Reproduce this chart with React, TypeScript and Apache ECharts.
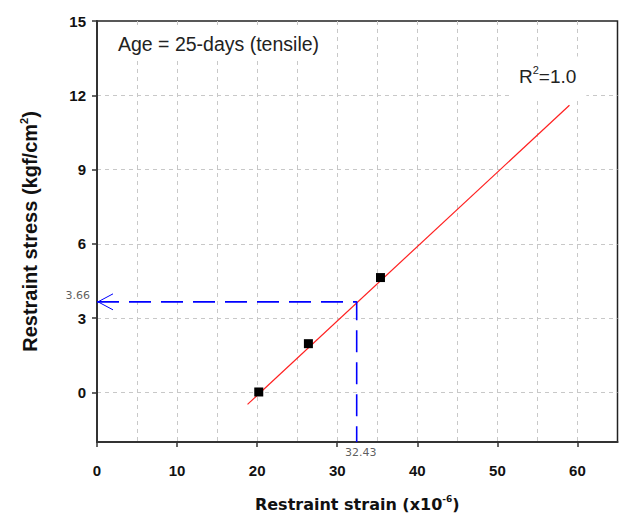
import React, { useEffect, useRef } from "react";
import * as echarts from "echarts";

// Measured restraint strain / stress at 25 days (tensile)
const strainValues = [20.2, 26.4, 35.4];
const stressValues = [0.02, 1.97, 4.64];

// End points of the fitted regression line
const fitStrain = [18.8, 59.0];
const fitStress = [-0.48, 11.6];

// Read-off point on the regression line
const readStrain = 32.43;
const readStress = 3.66;

// Axis ranges and tick labels
const xMin = 0;
const xMax = 65;
const xTickValues = [0, 10, 20, 30, 40, 50, 60];
const yMin = -2;
const yMax = 15;
const yTickValues = [0, 3, 6, 9, 12, 15];

const ageLabel = "Age = 25-days (tensile)";
const fitLabel = "R{sup|2}=1.0";

const FONT = "'Liberation Sans', Arial, Helvetica, sans-serif";
const WIDE_FONT = "'DejaVu Sans', Verdana, sans-serif";

export default function App() {
  const ref = useRef<HTMLDivElement>(null);

  useEffect(() => {
    if (!ref.current) return;
    const chart = echarts.init(ref.current, null, { renderer: "svg" });

    const gridDash = { color: "#c8c8c8", width: 1, type: [4, 4] as number[] };
    const guideColor = "#0000ff";

    const option: echarts.EChartsOption = {
      animation: false,
      backgroundColor: "#ffffff",
      grid: {
        left: 97,
        right: 1.5,
        top: 21,
        bottom: 79,
        show: true,
        borderColor: "#222",
        borderWidth: 1.5,
        backgroundColor: "transparent",
      },
      xAxis: [
        {
          type: "value",
          min: xMin,
          max: xMax,
          position: "bottom",
          name: "Restraint strain (x10{sup|-6})",
          nameLocation: "middle",
          nameGap: 52,
          nameTextStyle: {
            fontFamily: WIDE_FONT,
            fontWeight: "bold",
            fontSize: 16,
            color: "#111",
            rich: {
              sup: { fontSize: 9, fontWeight: "bold", fontFamily: WIDE_FONT, padding: [0, 0, 11, 0], color: "#111" },
            },
          },
          axisLine: { show: true, onZero: false, lineStyle: { color: "#333", width: 2 } },
          axisTick: { show: true, inside: false, length: 5, customValues: xTickValues, lineStyle: { color: "#333", width: 1.5 } },
          axisLabel: {
            customValues: xTickValues,
            margin: 21,
            fontFamily: FONT,
            fontWeight: "bold",
            fontSize: 15,
            color: "#111",
          },
          splitLine: { show: false },
        },
        {
          // grid lines every 5 units
          type: "value",
          min: xMin,
          max: xMax,
          interval: 5,
          position: "bottom",
          axisLine: { show: false },
          axisTick: { show: false },
          axisLabel: { show: false },
          splitLine: { show: true, showMinLine: false, showMaxLine: false, lineStyle: gridDash } as any,
        },
      ],
      yAxis: {
        type: "value",
        min: yMin,
        max: yMax,
        name: "Restraint stress (kgf/cm{sup|2})",
        nameLocation: "middle",
        nameGap: 55,
        nameTextStyle: {
          fontFamily: FONT,
          fontWeight: "bold",
          fontSize: 20,
          color: "#111",
          rich: {
            sup: { fontSize: 11, fontWeight: "bold", fontFamily: FONT, padding: [0, 0, 13, 0], color: "#111" },
          },
        },
        axisLine: { show: true, onZero: false, lineStyle: { color: "#333", width: 2 } },
        axisTick: { show: true, inside: false, length: 5, customValues: yTickValues, lineStyle: { color: "#333", width: 1.5 } },
        axisLabel: {
          customValues: yTickValues,
          margin: 11,
          fontFamily: FONT,
          fontWeight: "bold",
          fontSize: 15,
          color: "#111",
        },
        splitLine: { show: true, showMaxLine: false, lineStyle: gridDash } as any,
      },
      graphic: [
        {
          type: "text",
          x: 112,
          y: 44,
          z: 10,
          style: {
            text: ageLabel,
            fontFamily: FONT,
            fontSize: 19.5,
            fill: "#222",
            textVerticalAlign: "middle",
            backgroundColor: "#ffffff",
            padding: [6, 6, 6, 6],
          },
        },
        {
          type: "text",
          x: 509,
          y: 77,
          z: 10,
          style: {
            text: fitLabel,
            fontFamily: FONT,
            fontSize: 19,
            fill: "#222",
            textVerticalAlign: "middle",
            backgroundColor: "#ffffff",
            padding: [8, 10, 10, 10],
            rich: {
              sup: { fontSize: 11, fontFamily: FONT, fill: "#222", padding: [0, 0, 12, 0] },
            },
          } as any,
        },
      ],
      series: [
        {
          name: "fit",
          type: "line",
          data: fitStrain.map((x, i) => [x, fitStress[i]]),
          showSymbol: false,
          symbol: "none",
          lineStyle: { color: "#ff2020", width: 1.2 },
          z: 3,
        },
        {
          name: "guide",
          type: "line",
          data: [
            [xMin, readStress],
            [readStrain, readStress],
            [readStrain, yMin],
          ],
          showSymbol: false,
          symbol: "none",
          lineStyle: { color: guideColor, width: 1.6, type: [22, 10] },
          z: 3,
        },
        {
          name: "arrow",
          type: "custom",
          data: [[xMin, readStress]],
          clip: false,
          renderItem: (params: any, api: any) => {
            const p = api.coord([api.value(0), api.value(1)]);
            return {
              type: "polyline",
              shape: {
                points: [
                  [p[0] + 16, p[1] - 8],
                  [p[0] + 1, p[1]],
                  [p[0] + 16, p[1] + 8],
                ],
              },
              style: { stroke: guideColor, fill: "none", lineWidth: 1 },
            };
          },
          z: 4,
        },
        {
          name: "stress label",
          type: "scatter",
          data: [[xMin, readStress]],
          symbolSize: 0,
          clip: false,
          label: {
            show: true,
            position: "left",
            distance: 7,
            offset: [0, -6],
            formatter: () => readStress.toFixed(2),
            fontFamily: WIDE_FONT,
            fontSize: 11,
            color: "#333",
          },
          silent: true,
        },
        {
          name: "strain label",
          type: "scatter",
          data: [[readStrain, yMin]],
          symbolSize: 0,
          clip: false,
          label: {
            show: true,
            position: "bottom",
            distance: 5,
            offset: [4, 0],
            formatter: () => readStrain.toFixed(2),
            fontFamily: WIDE_FONT,
            fontSize: 11,
            color: "#333",
          },
          silent: true,
        },
        {
          name: "measured",
          type: "scatter",
          data: strainValues.map((x, i) => [x, stressValues[i]]),
          symbol: "rect",
          symbolSize: 9,
          itemStyle: { color: "#000", opacity: 1 },
          z: 5,
        },
      ],
    };

    chart.setOption(option);
    return () => chart.dispose();
  }, []);

  return (
    <div
      ref={ref}
      style={{ position: "fixed", left: 0, top: 0, width: 619, height: 521, background: "#fff" }}
    />
  );
}
